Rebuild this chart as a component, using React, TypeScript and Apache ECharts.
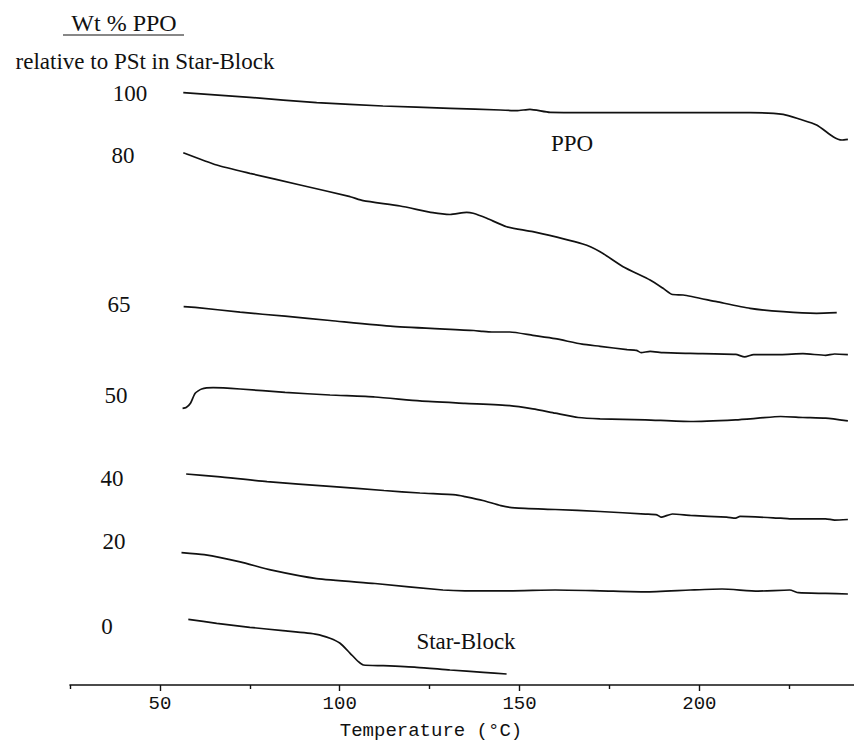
import React, { useEffect, useRef } from "react";
import * as echarts from "echarts";

// Temperature (°C) vs. DSC signal (arbitrary units, stacked traces)
const curve100: [number, number][] = [
  [56.5, 592.3], [75.0, 587.7], [93.6, 582.3], [112.0, 579], [130.7, 576.7], [144.6, 575],
  [149.2, 574.3], [152.9, 575.7], [158.5, 572.7], [186.3, 572.3], [214.1, 572.3], [223.3, 570.7],
  [228.0, 565.7], [232.6, 560], [237.2, 548.3], [239.6, 545], [241.3, 545.7],
];
const curve80: [number, number][] = [
  [56.5, 532.3], [65.8, 520], [75.0, 511.7], [89.0, 500], [102.9, 488.3], [106.5, 484.3],
  [116.8, 479], [125.9, 472.3], [130.7, 470.5], [135.3, 472.7], [137.1, 471.7], [140.9, 466.7],
  [146.4, 458.3], [153.7, 453.3], [167.6, 441], [172.4, 433.3], [178.8, 418.3], [186.3, 405],
  [189.9, 396.7], [192.3, 390.7], [195.5, 390], [204.8, 383.3], [214.1, 376.7], [223.3, 373.3],
  [232.6, 371.7], [238.2, 372.3],
];
const curve65: [number, number][] = [
  [56.6, 378.4], [59.8, 377.7], [72.3, 372.8], [84.8, 368.8], [97.3, 364.5], [114.8, 358.6],
  [137.3, 354.5], [139.8, 353.6], [142.3, 353.0], [147.3, 353.0], [153.7, 349.6], [159.9, 346.3],
  [167.4, 340.8], [172.4, 338.7], [179.9, 335.4], [182.5, 334.7], [183.8, 332.3], [186.3, 333.7],
  [190.0, 332.3], [197.5, 331.6], [210.1, 330.6], [212.6, 328.1], [215.1, 330.4], [222.6, 330.4],
  [228.8, 331.3], [235.1, 329.7], [237.6, 331.0], [241.3, 330.4],
];
const curve50: [number, number][] = [
  [56.3, 276.7], [57.3, 277.5], [58.5, 281.7], [59.8, 291.7], [61.6, 296.0], [64.8, 297.3],
  [72.3, 296.0], [84.8, 292.6], [97.3, 290.0], [109.8, 288.0], [122.3, 284.1], [134.8, 281.7],
  [147.3, 279.4], [153.7, 276.1], [159.9, 271.8], [166.3, 267.5], [172.4, 266.2], [185.0, 265.2],
  [197.5, 263.5], [210.1, 265.2], [216.3, 266.8], [222.6, 268.5], [228.8, 267.5], [235.1, 266.8],
  [241.3, 264.1],
];
const curve40: [number, number][] = [
  [57.3, 211], [66.0, 208.4], [79.8, 203.3], [97.3, 198.7], [112.3, 194.5], [122.3, 192.0],
  [132.3, 190.1], [134.8, 188.4], [139.8, 184.5], [144.8, 179.4], [148.7, 177.1], [159.9, 175.5],
  [172.4, 173.5], [185.0, 170.9], [188.2, 170.2], [189.3, 167.8], [192.5, 171.0], [197.5, 169.6],
  [207.6, 167.8], [210.1, 166.8], [211.3, 168.6], [222.6, 166.8], [225.1, 166.2], [235.1, 166.2],
  [237.6, 164.9], [241.3, 165.5],
];
const curve20: [number, number][] = [
  [56.0, 132.4], [62.3, 130.3], [72.3, 123.1], [81.1, 114.8], [93.6, 106.4], [109.8, 101.5],
  [128.7, 95.0], [134.8, 94.2], [147.3, 94.2], [159.9, 95.0], [172.4, 94.2], [185.0, 93.2],
  [197.5, 95.0], [206.3, 96.0], [216.3, 93.9], [225.1, 95.0], [227.6, 92.3], [235.1, 91.6],
  [241.3, 91.0],
];
const curve0: [number, number][] = [
  [57.9, 65.7], [65.8, 61.7], [75.0, 57.7], [84.2, 54.3], [93.6, 50.7], [97.3, 46.7],
  [100.1, 41.7], [102.9, 31.7], [105.2, 23.3], [106.6, 20], [112.1, 19.3], [121.4, 17.7],
  [130.7, 15], [139.9, 12.7], [146.4, 11],
];

const curves = [curve100, curve80, curve65, curve50, curve40, curve20, curve0];
const wtLabels = ["100", "80", "65", "50", "40", "20", "0"];
const majorTicks = [50, 100, 150, 200];
const minorTicks = [25, 75, 125, 175, 225];
const xTitle = "Temperature (°C)";
const headerTitle = "Wt % PPO";
const headerSub = "relative to PSt in Star-Block";
const annotations = ["PPO", "Star-Block"];

const labelPos: [number, number][] = [
  [130, 93], [123, 155], [119, 304], [116, 395], [112, 478], [114, 541], [107, 626],
];

const SERIF = "'Liberation Serif', 'Times New Roman', serif";
const MONO = "'Liberation Mono', 'DejaVu Sans Mono', monospace";

export default function App() {
  const ref = useRef<HTMLDivElement>(null);
  useEffect(() => {
    if (!ref.current) return;
    document.body.style.margin = "0";
    const chart = echarts.init(ref.current, undefined, { renderer: "svg" });
    const graphics: any[] = [];
    wtLabels.forEach((t, i) => {
      graphics.push({
        type: "text",
        x: labelPos[i][0],
        y: labelPos[i][1],
        style: { text: t, font: `23px ${SERIF}`, fill: "#111", textAlign: "center", textVerticalAlign: "middle" },
      });
    });
    graphics.push(
      {
        type: "text", x: 124, y: 23,
        style: { text: headerTitle, font: `24px ${SERIF}`, fill: "#111", textAlign: "center", textVerticalAlign: "middle" },
      },
      { type: "line", shape: { x1: 63, y1: 35, x2: 184, y2: 35 }, style: { stroke: "#111", lineWidth: 1.2 } },
      {
        type: "text", x: 145, y: 61,
        style: { text: headerSub, font: `23px ${SERIF}`, fill: "#111", textAlign: "center", textVerticalAlign: "middle" },
      },
      {
        type: "text", x: 572, y: 143,
        style: { text: annotations[0], font: `23px ${SERIF}`, fill: "#111", textAlign: "center", textVerticalAlign: "middle" },
      },
      {
        type: "text", x: 466, y: 641,
        style: { text: annotations[1], font: `23px ${SERIF}`, fill: "#111", textAlign: "center", textVerticalAlign: "middle" },
      },
      {
        type: "text", x: 431, y: 731,
        style: { text: xTitle, font: `19px ${MONO}`, fill: "#111", textAlign: "center", textVerticalAlign: "middle" },
      }
    );

    chart.setOption({
      animation: false,
      backgroundColor: "#fff",
      grid: { left: 70, right: 0, top: 0, bottom: 58 },
      xAxis: [
        {
          type: "value",
          min: 25,
          max: 243,
          position: "bottom",
          axisLine: { show: true, onZero: false, lineStyle: { color: "#111", width: 1.6 } },
          axisTick: { show: true, customValues: majorTicks, length: 6, lineStyle: { color: "#111", width: 1.4 } },
          axisLabel: {
            show: true,
            customValues: majorTicks,
            margin: 9,
            color: "#111",
            fontFamily: MONO,
            fontSize: 19,
          },
          splitLine: { show: false },
        },
        {
          type: "value",
          min: 25,
          max: 243,
          position: "bottom",
          axisLine: { show: false },
          axisTick: { show: true, customValues: minorTicks, length: 4, lineStyle: { color: "#111", width: 1.4 } },
          axisLabel: { show: false },
          splitLine: { show: false },
        },
      ],
      yAxis: { type: "value", min: 0, max: 685, show: false, splitLine: { show: false } },
      graphic: graphics,
      series: curves.map((c, i) => ({
        type: "line",
        name: wtLabels[i],
        data: c,
        xAxisIndex: 0,
        showSymbol: false,
        smooth: 0.2,
        lineStyle: { color: "#111", width: 1.7 },
      })),
    });
    return () => chart.dispose();
  }, []);
  return <div ref={ref} style={{ position: "absolute", left: 0, top: 0, width: 854, height: 743 }} />;
}
